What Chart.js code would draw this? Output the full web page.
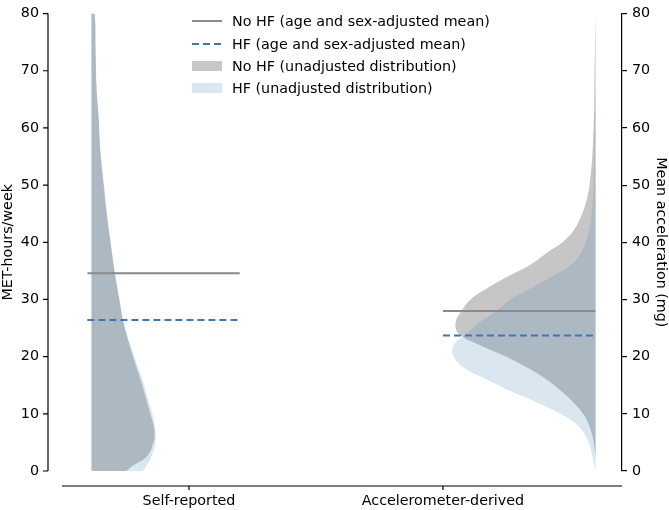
<!DOCTYPE html>
<html>
<head>
<meta charset="utf-8">
<script src="https://cdn.jsdelivr.net/npm/chart.js@4.4.0/dist/chart.umd.min.js"></script>
<style>
  html, body { margin: 0; padding: 0; background: #fff; }
  #wrap { width: 669px; height: 510px; }
</style>
</head>
<body>
<div id="wrap"><canvas id="chart" width="669" height="510"></canvas></div>
<script>
// categories and adjusted means
const categories = ["Self-reported", "Accelerometer-derived"];
const meanNoHF = [34.6, 28.0];
const meanHF = [26.4, 23.7];

// unadjusted distributions (half violin widths, in x-axis units)
const selfLevels = [0, 1, 2.5, 5, 7, 10, 13, 16, 21, 26, 30, 35, 40, 45, 50, 56, 62, 67, 74, 80];
const selfNoHF = [0.13, 0.165, 0.217, 0.244, 0.248, 0.232, 0.213, 0.193, 0.157, 0.126, 0.11, 0.091, 0.075, 0.061, 0.049, 0.035, 0.028, 0.02, 0.016, 0.012];
const selfHF = [0.197, 0.217, 0.236, 0.252, 0.252, 0.24, 0.22, 0.201, 0.161, 0.126, 0.11, 0.091, 0.075, 0.059, 0.047, 0.035, 0.028, 0.02, 0.016, 0.012];

const accLevels = [0, 2, 4, 6, 8, 10, 12, 14, 16, 18, 20, 22, 24, 26, 28, 30, 32, 34, 36, 38, 41, 45, 50, 60, 70, 80];
const accNoHF = [0, 0, 0.004, 0.012, 0.026, 0.049, 0.087, 0.136, 0.193, 0.266, 0.352, 0.455, 0.539, 0.551, 0.528, 0.492, 0.425, 0.346, 0.26, 0.197, 0.106, 0.053, 0.024, 0.008, 0.004, 0];
const accHF = [0, 0.01, 0.02, 0.037, 0.071, 0.138, 0.23, 0.335, 0.429, 0.516, 0.559, 0.559, 0.508, 0.457, 0.39, 0.335, 0.252, 0.173, 0.098, 0.059, 0.031, 0.016, 0.008, 0.004, 0, 0];

const yTicks = [0, 10, 20, 30, 40, 50, 60, 70, 80];

// where the violins and mean lines sit along x
const selfEdge = -0.384;
const accEdge = 1.601;
const meanSpan = [[-0.4, 0.2], [1.0, 1.6]];

const GRAY_LINE = "#8a8a8a";
const BLUE_LINE = "#3f77b0";
const GRAY_FILL = "#c6c6c6";
const BLUE_FILL = "rgba(70,130,180,0.2)";
const FONT = "'DejaVu Sans', sans-serif";
const FONT_SIZE = 14.3;

// build a closed half violin polygon
function halfViolin(levels, widths, edge, dir) {
  const pts = [{ x: edge, y: levels[0] }];
  levels.forEach((lv, i) => pts.push({ x: edge + dir * widths[i], y: lv }));
  pts.push({ x: edge, y: levels[levels.length - 1] });
  return pts;
}

function meanLine(i, values) {
  return [
    { x: meanSpan[i][0], y: values[i] },
    { x: meanSpan[i][1], y: values[i] },
  ];
}

function fillSet(data, color) {
  return {
    data: data,
    showLine: true,
    fill: "shape",
    backgroundColor: color,
    borderWidth: 0,
    borderColor: "rgba(0,0,0,0)",
    pointRadius: 0,
    tension: 0.4,
  };
}

function lineSet(data, color, dash) {
  return {
    data: data,
    showLine: true,
    fill: false,
    borderColor: color,
    borderWidth: 2,
    borderDash: dash,
    pointRadius: 0,
  };
}

// offset spines on the left and bottom
const spines = {
  id: "spines",
  afterDraw(chart) {
    const { ctx, chartArea: a, scales } = chart;
    const yS = scales.y;
    const xS = scales.x;
    ctx.save();
    ctx.strokeStyle = "#000";
    ctx.lineWidth = 1.2;

    const lx = a.left - 14;
    ctx.beginPath();
    ctx.moveTo(lx, yS.getPixelForValue(0));
    ctx.lineTo(lx, yS.getPixelForValue(80));
    yTicks.forEach((v) => {
      const py = yS.getPixelForValue(v);
      ctx.moveTo(lx - 5, py);
      ctx.lineTo(lx, py);
    });
    ctx.stroke();

    const by = a.bottom + 15;
    ctx.beginPath();
    ctx.moveTo(a.left, by);
    ctx.lineTo(a.right, by);
    categories.forEach((c, i) => {
      const px = xS.getPixelForValue(i);
      ctx.moveTo(px, by);
      ctx.lineTo(px, by + 4);
    });
    ctx.stroke();
    ctx.restore();
  },
};

// legend list in the upper middle
const legendBox = {
  id: "legendBox",
  afterDraw(chart) {
    const ctx = chart.ctx;
    const x0 = 192;
    const rows = [21, 44, 66, 88];
    const labels = [
      "No HF (age and sex-adjusted mean)",
      "HF (age and sex-adjusted mean)",
      "No HF (unadjusted distribution)",
      "HF (unadjusted distribution)",
    ];
    ctx.save();
    ctx.lineWidth = 2;
    ctx.strokeStyle = GRAY_LINE;
    ctx.beginPath();
    ctx.moveTo(x0, rows[0]);
    ctx.lineTo(x0 + 30, rows[0]);
    ctx.stroke();

    ctx.strokeStyle = BLUE_LINE;
    ctx.setLineDash([7, 4]);
    ctx.beginPath();
    ctx.moveTo(x0, rows[1]);
    ctx.lineTo(x0 + 30, rows[1]);
    ctx.stroke();
    ctx.setLineDash([]);

    ctx.fillStyle = "#c8c8c8";
    ctx.fillRect(x0, rows[2] - 5, 30, 10);
    ctx.fillStyle = BLUE_FILL;
    ctx.fillRect(x0, rows[3] - 5, 30, 10);

    ctx.fillStyle = "#000";
    ctx.font = FONT_SIZE + "px " + FONT;
    ctx.textBaseline = "middle";
    labels.forEach((t, i) => ctx.fillText(t, x0 + 40, rows[i] + 1));
    ctx.restore();
  },
};

const chart = document.querySelector("#chart").getContext("2d");

new Chart(chart, {
  type: "scatter",
  data: {
    datasets: [
      lineSet(meanLine(0, meanNoHF), GRAY_LINE, []),
      lineSet(meanLine(1, meanNoHF), GRAY_LINE, []),
      lineSet(meanLine(0, meanHF), BLUE_LINE, [7, 4]),
      lineSet(meanLine(1, meanHF), BLUE_LINE, [7, 4]),
      fillSet(halfViolin(selfLevels, selfHF, selfEdge, 1), BLUE_FILL),
      fillSet(halfViolin(accLevels, accHF, accEdge, -1), BLUE_FILL),
      fillSet(halfViolin(selfLevels, selfNoHF, selfEdge, 1), GRAY_FILL),
      fillSet(halfViolin(accLevels, accNoHF, accEdge, -1), GRAY_FILL),
    ],
  },
  options: {
    responsive: false,
    animation: false,
    layout: { padding: { top: 5, left: 0, right: 0, bottom: 0 } },
    plugins: {
      legend: { display: false },
      tooltip: { enabled: false },
    },
    scales: {
      x: {
        type: "linear",
        min: -0.5,
        max: 1.705,
        afterBuildTicks: (axis) => {
          axis.ticks = categories.map((c, i) => ({ value: i }));
        },
        afterFit: (axis) => {
          axis.height = 39;
        },
        border: { display: false },
        grid: { drawOnChartArea: false, color: "rgba(0,0,0,0)", tickLength: 20 },
        ticks: {
          autoSkip: false,
          maxRotation: 0,
          padding: 2,
          color: "#000",
          font: { family: FONT, size: FONT_SIZE },
          callback: (v) => categories[v] || "",
        },
      },
      y: {
        position: "left",
        min: 0,
        max: 80,
        afterFit: (axis) => {
          axis.width = 62;
        },
        border: { display: false },
        grid: { drawOnChartArea: false, color: "rgba(0,0,0,0)", tickLength: 20 },
        ticks: {
          stepSize: 10,
          padding: 3,
          color: "#000",
          font: { family: FONT, size: FONT_SIZE },
        },
        title: {
          display: true,
          text: "MET-hours/week",
          color: "#000",
          padding: 0,
          font: { family: FONT, size: FONT_SIZE },
        },
      },
      y2: {
        axis: "y",
        position: "right",
        min: 0,
        max: 80,
        afterFit: (axis) => {
          axis.width = 47;
        },
        border: { display: true, color: "#000", width: 1.2 },
        grid: { drawOnChartArea: false, color: "#000", lineWidth: 1.2, tickLength: 5 },
        ticks: {
          stepSize: 10,
          padding: 5,
          color: "#000",
          font: { family: FONT, size: FONT_SIZE },
        },
        title: {
          display: true,
          text: "Mean acceleration (mg)",
          color: "#000",
          padding: 0,
          font: { family: FONT, size: FONT_SIZE },
        },
      },
    },
  },
  plugins: [spines, legendBox],
});
</script>
</body>
</html>
